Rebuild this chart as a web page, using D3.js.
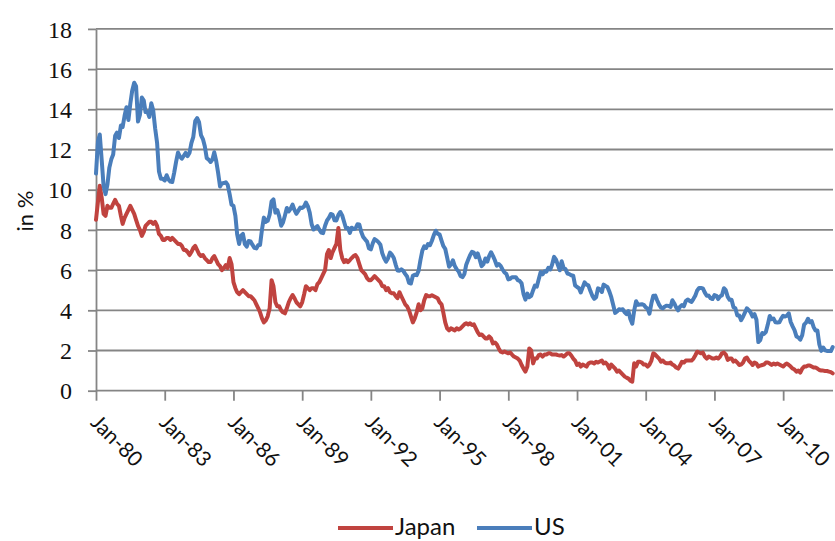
<!DOCTYPE html>
<html><head><meta charset="utf-8">
<script src="https://cdn.jsdelivr.net/npm/d3@7"></script>
<style>body{margin:0;background:#fff}</style>
</head><body><svg id="c" width="835" height="541"></svg>
<script>
// Monthly series, Jan 1980 .. Mar 2012 (10-year government bond yields, in %)
const firstMonth = "1980-01-01";
const lastMonth = "2012-03-01";
const japan = [
 8.5,9.4,10.2,9.6,8.8,8.7,9.2,9.1,9.1,9.3,9.5,9.3,
 9.2,8.7,8.3,8.6,8.8,9.0,9.2,9.0,8.8,8.5,8.2,8.0,
 7.7,7.9,8.2,8.3,8.4,8.4,8.3,8.4,8.2,7.8,7.7,7.5,
 7.5,7.6,7.6,7.5,7.6,7.5,7.4,7.3,7.3,7.2,7.0,7.0,
 6.9,6.75,6.9,7.1,7.2,7.0,6.8,6.7,6.75,6.6,6.5,6.4,
 6.4,6.6,6.7,6.5,6.3,6.2,6.0,6.1,6.25,6.1,6.6,6.3,
 5.4,5.1,4.9,4.8,4.9,5.0,4.9,4.8,4.7,4.7,4.6,4.5,
 4.3,4.1,3.9,3.6,3.4,3.5,3.7,4.1,5.5,5.2,4.4,4.2,
 4.2,4.0,3.9,3.85,4.1,4.4,4.6,4.76,4.6,4.4,4.3,4.2,
 4.4,4.8,5.2,5.1,5.0,5.1,5.1,5.0,5.3,5.4,5.6,5.8,
 6.0,6.8,7.0,6.6,6.9,7.1,7.3,8.1,7.0,6.6,6.4,6.5,
 6.4,6.5,6.6,6.7,6.75,6.6,6.3,6.0,5.9,5.8,5.6,5.5,
 5.5,5.6,5.7,5.6,5.5,5.4,5.2,5.2,5.0,5.1,4.9,4.85,
 4.85,4.7,4.6,4.9,4.7,4.5,4.3,4.2,4.0,3.7,3.4,3.6,
 3.9,4.3,4.0,4.1,4.5,4.76,4.7,4.7,4.75,4.7,4.65,4.6,
 4.4,4.3,3.9,3.4,3.1,3.0,3.1,3.05,3.0,3.1,3.05,3.1,
 3.2,3.3,3.35,3.3,3.35,3.27,3.3,3.1,2.9,2.77,2.8,2.7,
 2.6,2.6,2.7,2.6,2.35,2.4,2.3,2.1,1.94,1.9,1.95,1.9,
 1.86,1.9,1.8,1.7,1.65,1.6,1.5,1.28,1.1,0.95,1.2,2.1,
 2.0,1.36,1.6,1.6,1.77,1.8,1.7,1.8,1.8,1.86,1.86,1.8,
 1.8,1.8,1.77,1.75,1.77,1.7,1.77,1.86,1.86,1.75,1.6,1.5,
 1.28,1.35,1.2,1.3,1.25,1.2,1.35,1.4,1.4,1.35,1.44,1.4,
 1.45,1.5,1.36,1.4,1.3,1.1,1.3,1.2,1.1,0.95,1.0,0.9,
 0.8,0.7,0.65,0.6,0.5,0.45,1.36,1.2,1.44,1.44,1.4,1.3,
 1.3,1.2,1.3,1.5,1.86,1.8,1.7,1.6,1.44,1.5,1.4,1.36,
 1.36,1.4,1.3,1.25,1.15,1.1,1.25,1.44,1.4,1.5,1.5,1.5,
 1.5,1.6,1.75,1.94,1.9,1.86,1.9,1.7,1.6,1.7,1.65,1.6,
 1.6,1.65,1.6,1.7,1.86,1.9,1.8,1.53,1.6,1.6,1.45,1.5,
 1.4,1.28,1.3,1.4,1.6,1.65,1.5,1.4,1.28,1.4,1.35,1.2,
 1.25,1.28,1.3,1.4,1.4,1.35,1.28,1.35,1.3,1.35,1.3,1.25,
 1.2,1.3,1.35,1.28,1.2,1.1,1.05,0.95,1.0,0.9,1.1,1.2,
 1.2,1.25,1.25,1.2,1.15,1.15,1.1,1.03,1.0,1.0,0.98,0.98,
 0.95,0.92,0.86
];
const us = [
 10.80,12.41,12.75,11.47,10.18,9.78,10.25,11.10,11.51,11.75,12.68,12.84,
 12.57,13.19,13.12,13.68,14.10,13.47,14.28,14.94,15.32,15.15,13.39,13.72,
 14.59,14.43,13.86,13.87,13.62,14.30,13.95,13.06,12.34,10.91,10.55,10.54,
 10.46,10.72,10.51,10.40,10.38,10.85,11.38,11.85,11.65,11.54,11.69,11.83,
 11.67,11.84,12.32,12.63,13.41,13.56,13.36,12.72,12.52,12.16,11.57,11.50,
 11.38,11.51,11.86,11.43,10.85,10.16,10.31,10.33,10.37,10.24,9.78,9.26,
 9.19,8.70,7.78,7.30,7.71,7.80,7.30,7.17,7.45,7.43,7.25,7.11,
 7.08,7.25,7.25,8.02,8.61,8.40,8.45,8.76,9.42,9.52,8.86,8.99,
 8.67,8.21,8.37,8.72,9.09,8.92,9.06,9.26,8.98,8.80,8.96,9.11,
 9.09,9.17,9.36,9.18,8.86,8.28,8.02,8.11,8.19,8.01,7.87,7.84,
 8.21,8.47,8.59,8.79,8.76,8.48,8.47,8.75,8.89,8.72,8.39,8.08,
 8.09,7.85,8.11,8.04,8.07,8.28,8.27,7.90,7.65,7.53,7.42,7.09,
 7.03,7.34,7.54,7.48,7.39,7.26,6.84,6.59,6.42,6.59,6.87,6.77,
 6.60,6.26,5.98,5.97,6.04,5.96,5.81,5.68,5.36,5.33,5.72,5.77,
 5.75,5.97,6.48,6.97,7.18,7.10,7.30,7.24,7.46,7.74,7.96,7.81,
 7.78,7.47,7.20,7.06,6.63,6.17,6.28,6.49,6.20,6.04,5.93,5.71,
 5.65,5.81,6.27,6.51,6.74,6.91,6.87,6.64,6.83,6.53,6.20,6.30,
 6.58,6.42,6.69,6.89,6.71,6.49,6.22,6.30,6.21,6.03,5.88,5.81,
 5.54,5.57,5.65,5.64,5.65,5.50,5.46,5.34,4.81,4.53,4.83,4.65,
 4.72,5.00,5.23,5.18,5.54,5.90,5.79,5.94,5.92,6.11,6.03,6.28,
 6.66,6.52,6.26,5.99,6.44,6.10,6.05,5.83,5.80,5.74,5.72,5.24,
 5.16,5.10,4.89,5.14,5.39,5.28,5.24,4.97,4.73,4.57,4.65,5.09,
 5.04,4.91,5.28,5.21,5.16,4.93,4.65,4.26,3.87,3.94,4.05,4.03,
 4.05,3.90,3.81,3.96,3.57,3.33,3.98,4.45,4.27,4.29,4.30,4.27,
 4.15,4.08,3.83,4.35,4.72,4.73,4.50,4.28,4.13,4.10,4.19,4.23,
 4.22,4.17,4.50,4.34,4.14,4.00,4.18,4.26,4.20,4.46,4.54,4.47,
 4.42,4.57,4.72,4.99,5.11,5.11,5.09,4.88,4.72,4.73,4.60,4.56,
 4.76,4.72,4.56,4.69,4.75,5.10,5.00,4.67,4.52,4.53,4.15,4.10,
 3.74,3.74,3.51,3.68,3.88,4.10,4.01,3.89,3.69,3.81,3.53,2.42,
 2.52,2.87,2.82,2.93,3.29,3.72,3.56,3.59,3.40,3.39,3.40,3.59,
 3.73,3.69,3.73,3.85,3.42,3.20,3.01,2.70,2.65,2.54,2.76,3.29,
 3.39,3.58,3.41,3.46,3.17,3.00,3.00,2.30,1.98,2.15,2.01,1.98,
 1.97,1.97,2.17
];
const seriesNames = ["Japan", "US"];
const seriesColors = ["#c0433f", "#4a7ebb"];
const yTicks = [0, 2, 4, 6, 8, 10, 12, 14, 16, 18];
const xTickYears = [1980, 1983, 1986, 1989, 1992, 1995, 1998, 2001, 2004, 2007, 2010];
const xTickLabels = ["Jan-80", "Jan-83", "Jan-86", "Jan-89", "Jan-92", "Jan-95", "Jan-98", "Jan-01", "Jan-04", "Jan-07", "Jan-10"];
const yTitle = "in %";

const svg = d3.select("#c");
const L = 96, R = 832.7, T = 28.9, B = 390.7;
const sans = "Lato, 'Open Sans', sans-serif";
const serif = "'Liberation Serif', 'DejaVu Serif', serif";
const grid = "#858585";

const months = d3.timeMonth.range(new Date(firstMonth + "T00:00"), d3.timeMonth.offset(new Date(lastMonth + "T00:00"), 1));
const x = d3.scaleTime().domain([months[0], months[months.length - 1]]).range([L, R]);
const y = d3.scaleLinear().domain([0, 18]).range([B, T]);

// gridlines
svg.append("g").selectAll("line").data(yTicks.filter(v => v > 0)).join("line")
  .attr("x1", L).attr("x2", 833).attr("y1", d => y(d)).attr("y2", d => y(d))
  .attr("stroke", grid).attr("stroke-width", 1.8);

// y axis
const ya = svg.append("g").attr("transform", `translate(${L},0)`)
  .call(d3.axisLeft(y).tickValues(yTicks).tickSize(8).tickPadding(16).tickSizeOuter(0));
ya.select(".domain").attr("stroke", grid).attr("stroke-width", 1.8);
ya.selectAll(".tick line").attr("stroke", grid).attr("stroke-width", 1.8);
ya.selectAll(".tick text").attr("font-family", serif).attr("font-size", 24).attr("fill", "#111").attr("dy", "0.34em");

// x axis
const xDates = xTickYears.map(yr => new Date(yr, 0, 1));
const xa = svg.append("g").attr("transform", `translate(0,${B})`)
  .call(d3.axisBottom(x).tickValues(xDates).tickSize(10).tickSizeOuter(0).tickFormat((d, i) => xTickLabels[i]));
xa.select(".domain").attr("d", `M${L},0H833`).attr("stroke", grid).attr("stroke-width", 1.8);
xa.selectAll(".tick line").attr("stroke", grid).attr("stroke-width", 1.8);
xa.selectAll(".tick text").attr("x", 0).attr("y", 0).attr("dy", 0)
  .attr("transform", "translate(-7,33) rotate(45)")
  .style("text-anchor", "start")
  .attr("font-family", sans).attr("font-size", 21).attr("fill", "#111");

// y title
svg.append("text").attr("transform", "translate(33,211) rotate(-90)")
  .attr("text-anchor", "middle").attr("font-family", sans).attr("font-size", 22)
  .attr("fill", "#111").text(yTitle);

// lines
const line = d3.line().x((d, i) => x(months[i])).y(d => y(d));
[japan, us].forEach((s, k) => {
  svg.append("path").datum(s).attr("d", line).attr("fill", "none")
    .attr("stroke", seriesColors[k]).attr("stroke-width", 4)
    .attr("stroke-linejoin", "round").attr("stroke-linecap", "round");
});

// legend
const legX = [338, 477];
seriesNames.forEach((n, k) => {
  svg.append("line").attr("x1", legX[k]).attr("x2", legX[k] + 55).attr("y1", 528).attr("y2", 528)
    .attr("stroke", seriesColors[k]).attr("stroke-width", 4);
  svg.append("text").attr("x", legX[k] + 57).attr("y", 535).attr("font-family", sans)
    .attr("font-size", 24).attr("fill", "#111").text(n);
});
</script>
</body></html>
